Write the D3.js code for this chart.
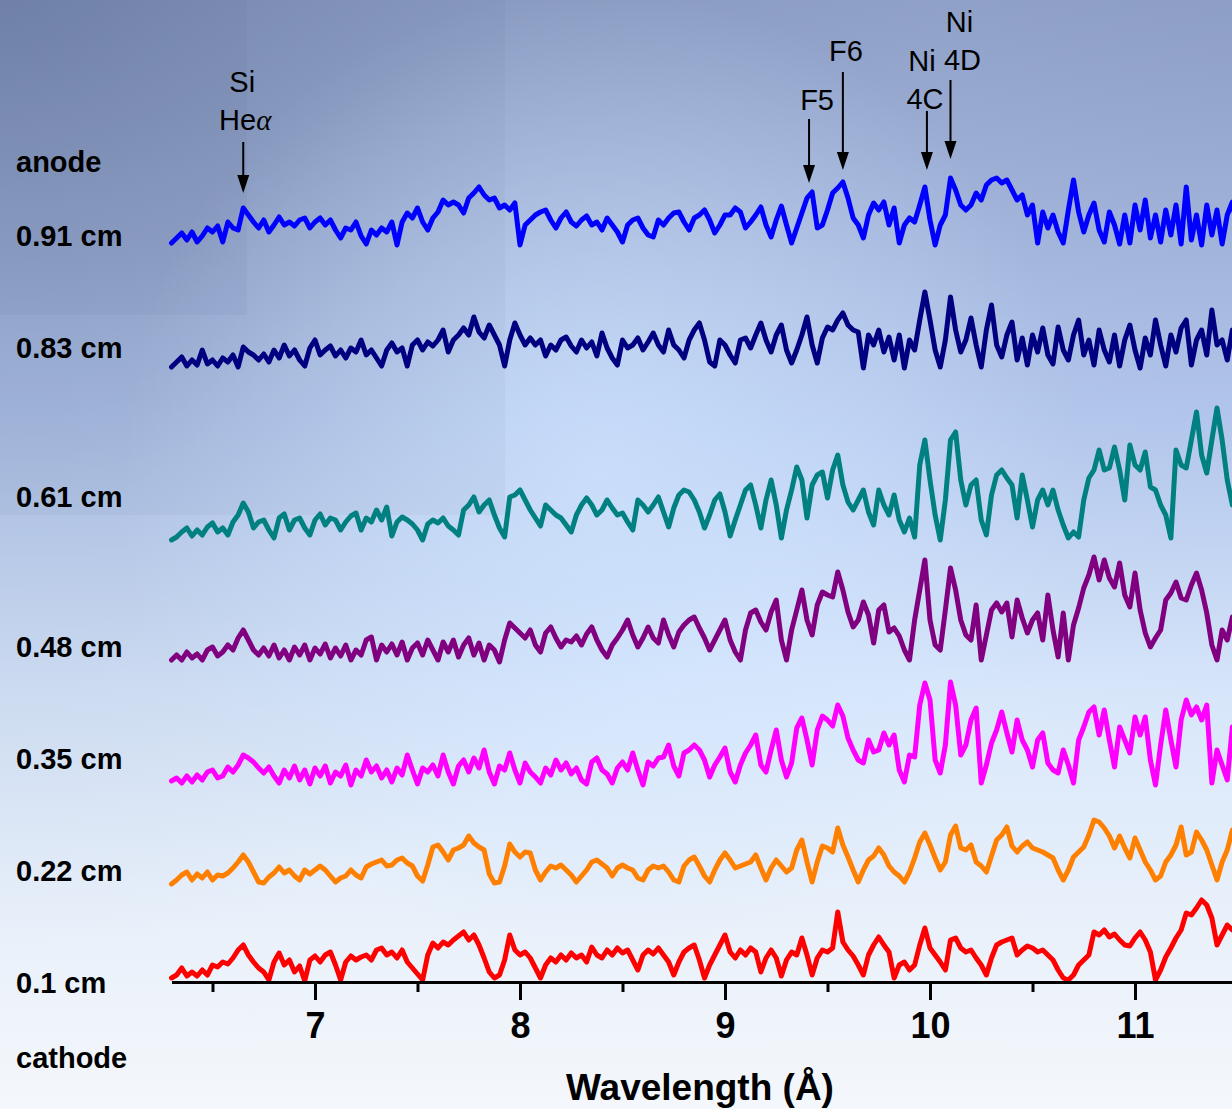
<!DOCTYPE html>
<html>
<head>
<meta charset="utf-8">
<script src="https://cdn.jsdelivr.net/npm/d3@7"></script>
<style>
  html, body { margin: 0; padding: 0; overflow: hidden; background: #fff; }
  svg { display: block; }
</style>
</head>
<body>
<svg id="chart" width="1232" height="1109"></svg>
<script>
// Spectral sampling grid (Å)
const wavelengthStart = 6.3;
const wavelengthStep = 0.025;

// Distance from the cathode for each recorded spectrum (bottom to top)
const positions = ["0.1 cm", "0.22 cm", "0.35 cm", "0.48 cm", "0.61 cm", "0.83 cm", "0.91 cm"];

// Vertical offset of each spectrum in the stack (a.u.)
const offsets = [4, 100, 201, 324, 444, 616, 740];

// Relative intensities (a.u.) on the sampling grid
const int010 = [0,3,10,2,6,2,8,3,13,11,
16,14,20,28,33,23,16,10,6,-2,
16,25,13,18,6,12,-3,18,22,16,
23,26,13,-2,16,22,18,21,23,18,
28,30,23,26,20,28,16,10,4,-2,
23,35,30,36,33,38,42,46,38,43,
33,20,6,0,3,18,43,28,23,26,
20,10,0,13,20,16,23,18,25,20,
23,16,31,23,20,28,23,30,25,28,
18,8,23,28,24,30,23,16,3,16,
26,30,33,18,0,13,23,33,43,26,
20,28,23,30,26,6,20,28,20,2,
18,26,23,40,23,3,20,28,26,30,
66,36,28,22,13,3,23,33,41,33,
26,0,13,16,8,13,33,50,30,23,
16,8,38,40,30,26,28,20,13,3,
20,33,36,38,40,23,28,32,30,26,
28,23,18,8,0,-2,3,13,18,23,
46,43,48,41,44,38,33,32,40,46,
38,26,-2,8,21,30,40,48,65,63,
70,78,73,60,33,43,53,48,50];

const int022 = [-2,2,7,10,2,8,4,10,2,7,
6,9,14,20,27,20,10,0,-1,5,
9,15,9,12,6,2,12,8,12,16,
12,6,0,4,6,12,7,4,15,18,
20,22,16,17,22,24,19,16,6,1,
17,35,37,30,22,32,34,37,46,39,
35,32,8,-1,0,16,38,30,25,30,
29,12,2,10,16,14,17,12,7,0,
6,12,20,22,18,14,6,14,17,14,
12,4,2,12,16,14,16,10,2,0,
16,22,25,16,6,0,12,22,29,22,
14,16,18,20,27,14,2,14,22,16,
10,14,32,42,20,0,20,36,34,30,
54,37,25,12,0,12,22,26,34,27,
16,10,6,0,10,24,40,49,37,24,
12,20,47,56,34,32,37,20,16,10,
26,42,47,55,36,30,36,40,34,32,
30,27,24,12,2,12,25,30,35,47,
62,60,54,46,34,46,34,24,44,32,
20,12,2,6,20,27,37,55,27,30,
50,42,32,17,2,20,32,52,47];

const int035 = [0,3,-2,5,-1,6,1,9,11,3,
5,14,9,16,26,23,19,13,8,14,
5,-2,11,3,15,1,11,-3,13,5,
15,-2,9,5,16,-4,11,5,21,9,
15,3,11,-1,13,6,26,11,-3,13,
9,16,5,26,9,-3,15,21,9,23,
13,31,9,-3,15,11,28,11,-2,18,
9,4,-2,13,6,21,11,18,7,13,
1,-3,19,23,11,7,-2,13,19,11,
28,11,-4,19,15,23,24,36,15,5,
28,31,36,31,21,4,16,24,33,9,
-1,16,28,36,46,16,9,31,51,21,
4,18,53,63,41,16,51,65,61,55,
76,65,43,31,21,18,41,29,31,48,
36,46,11,-1,26,24,76,98,81,21,
8,36,99,76,26,36,61,73,-2,16,
38,51,69,48,29,61,41,31,14,41,
48,18,11,8,31,16,-2,41,54,69,
74,46,71,41,14,54,41,28,64,46,
64,21,-4,36,71,41,14,61,81,66,
74,61,76,-2,31,16,1,54,41];

const int048 = [-2,3,-2,6,0,4,-2,8,11,2,
6,13,8,20,28,18,8,3,10,2,
13,0,8,-2,11,3,13,-2,10,4,
14,0,10,2,13,-2,8,3,18,21,
-2,13,6,14,3,16,-2,10,15,3,
18,8,-2,16,6,18,1,13,20,3,
15,-2,13,8,-4,18,35,30,25,20,
28,13,6,25,31,20,11,18,16,22,
13,24,31,18,8,1,13,20,28,38,
23,11,20,31,20,15,38,23,11,26,
33,38,41,30,20,8,18,28,38,18,
6,-2,28,45,48,36,28,46,58,18,
-2,28,48,68,38,23,53,66,63,61,
86,68,46,31,38,56,43,15,48,53,
26,30,22,8,-2,38,68,98,38,13,
8,48,90,68,38,23,18,53,-2,23,
48,55,46,55,21,58,40,25,38,45,
18,63,28,1,45,-2,33,50,70,83,
101,78,98,80,71,95,63,51,85,48,
25,11,20,28,58,65,76,60,58,73,
85,68,45,13,-2,28,18,41,33];

const int061 = [-2,1,6,10,2,8,3,11,15,6,
10,3,16,23,35,26,10,16,18,8,
0,20,24,8,18,20,10,3,18,24,
13,20,18,8,16,22,25,8,20,16,
28,18,31,2,16,21,18,14,8,-2,
14,18,15,20,12,8,3,28,33,41,
26,33,38,23,10,1,41,43,48,38,
28,20,12,33,28,23,20,13,6,23,
33,40,33,23,28,38,30,23,25,16,
8,38,33,26,33,41,26,11,30,43,
48,46,38,26,10,23,38,44,26,2,
18,33,48,53,33,10,38,58,33,0,
28,48,71,58,20,53,63,66,40,68,
83,53,36,28,38,48,26,13,48,33,
23,43,18,6,20,1,73,98,58,23,
-2,38,98,106,58,33,53,58,18,3,
43,63,68,60,53,20,63,38,11,38,
48,33,48,28,13,0,6,1,38,60,
68,88,68,70,91,68,38,93,73,68,
86,51,48,33,23,0,88,73,70,98,
126,83,65,98,130,98,58,33,53];

const int083 = [-1,4,9,0,6,1,16,2,6,0,
8,4,11,-1,19,14,11,6,12,4,
16,8,21,10,16,6,0,18,26,11,
16,20,10,16,8,18,14,26,11,16,
8,0,16,23,14,18,0,21,26,16,
24,20,26,36,14,26,31,38,31,49,
34,28,41,31,21,0,26,43,31,21,
28,21,26,10,21,16,26,29,20,14,
26,18,24,10,33,18,8,1,26,18,
21,28,16,24,33,21,14,36,21,16,
8,26,36,43,26,4,0,26,21,11,
3,26,28,18,31,43,26,14,31,41,
16,3,16,31,49,21,3,28,39,36,
46,53,41,36,34,-2,31,21,36,14,
29,6,31,-2,26,16,46,74,46,16,
-1,26,69,36,14,26,48,21,-1,36,
61,21,9,31,44,6,28,1,31,14,
38,11,2,39,16,6,31,46,11,26,
1,36,16,4,31,0,26,41,16,-2,
28,11,46,21,0,31,14,38,46,1,
26,36,11,56,21,26,6,36,21];

const int091 = [-1,4,9,2,10,0,6,14,10,16,
0,20,14,12,34,27,20,14,22,10,
17,25,17,20,16,22,24,14,20,24,
17,22,12,4,14,12,20,6,-2,12,
7,14,10,20,-3,20,29,24,34,20,
12,24,30,42,37,40,37,29,44,49,
55,47,42,44,34,37,32,39,-3,17,
22,27,30,32,22,14,24,30,20,16,
22,26,17,20,12,24,17,10,0,17,
22,24,14,7,5,22,17,24,29,30,
20,12,24,27,32,22,9,17,27,27,
34,30,14,20,27,35,17,5,22,36,
17,-1,14,29,44,50,14,17,32,49,
54,60,44,24,17,4,27,39,32,40,
17,34,-1,17,24,20,37,55,22,-3,
17,27,64,52,37,32,37,49,42,57,
62,64,59,62,52,42,47,27,37,-1,
30,14,27,10,-1,32,62,30,10,27,
39,12,0,30,17,-2,27,-1,37,12,
42,4,27,0,32,7,37,-2,55,2,
27,-3,37,7,32,-2,27,40,12];

const intensities = [int010, int022, int035, int048, int061, int083, int091];

// Axis ticks (Å)
const majorTicks = [7, 8, 9, 10, 11];
const minorTicks = [6.5, 7.5, 8.5, 9.5, 10.5, 11.5];

// Identified emission lines
const lineIds = [
  { lines: ["Si", "He\u03B1"], wavelength: 6.65 },
  { lines: ["F5"], wavelength: 9.41 },
  { lines: ["F6"], wavelength: 9.575 },
  { lines: ["Ni", "4C"], wavelength: 9.985 },
  { lines: ["Ni", "4D"], wavelength: 10.10 }
];

// ---------------------------------------------------------------- drawing
const W = 1232, H = 1109;
const svg = d3.select("#chart");
const FONT = "'Liberation Sans', Arial, Helvetica, sans-serif";

const colors = ["#ff0000", "#ff8000", "#ff00ff", "#800080", "#008080", "#000080", "#0000ff"];

const x = d3.scaleLinear().domain([6.3, 11.5]).range([171.5, 1237.5]);
const y = d3.scaleLinear().domain([0, 880]).range([982, 102]);

// background
const defs = svg.append("defs");
const vg = defs.append("linearGradient").attr("id", "bgV")
  .attr("x1", 0).attr("y1", 0).attr("x2", 0).attr("y2", 1);
[[0, "#93a4cb"], [0.38, "#b9cdf2"], [0.62, "#d8e7fb"], [0.85, "#eaf1fa"], [1, "#f4f7fb"]]
  .forEach(([o, c]) => vg.append("stop").attr("offset", o).attr("stop-color", c));

const dark = defs.append("radialGradient").attr("id", "bgDark")
  .attr("gradientUnits", "userSpaceOnUse").attr("cx", 0).attr("cy", 0).attr("r", 950);
[[0, "#4a5a80", 0.42], [0.55, "#5a6a90", 0.16], [1, "#5a6a90", 0]]
  .forEach(([o, c, a]) => dark.append("stop").attr("offset", o).attr("stop-color", c).attr("stop-opacity", a));

const glow = defs.append("radialGradient").attr("id", "bgGlow")
  .attr("gradientUnits", "userSpaceOnUse").attr("cx", 600).attr("cy", 470).attr("r", 480);
[[0, "#cfe4ff", 0.75], [0.6, "#cfe4ff", 0.3], [1, "#cfe4ff", 0]]
  .forEach(([o, c, a]) => glow.append("stop").attr("offset", o).attr("stop-color", c).attr("stop-opacity", a));

const cornerShade = defs.append("radialGradient").attr("id", "bgCorner")
  .attr("gradientUnits", "userSpaceOnUse").attr("cx", 1232).attr("cy", 0).attr("r", 760);
[[0, "#7f8fb8", 0.28], [0.6, "#7f8fb8", 0.1], [1, "#7f8fb8", 0]]
  .forEach(([o, c, a]) => cornerShade.append("stop").attr("offset", o).attr("stop-color", c).attr("stop-opacity", a));

svg.append("rect").attr("width", W).attr("height", H).attr("fill", "url(#bgV)");
svg.append("rect").attr("width", W).attr("height", H).attr("fill", "url(#bgCorner)");
svg.append("rect").attr("width", W).attr("height", H).attr("fill", "url(#bgDark)");
svg.append("rect").attr("width", W).attr("height", H).attr("fill", "url(#bgGlow)");
// gradient banding blocks
svg.append("rect").attr("width", 505).attr("height", 515).attr("fill", "#56668a").attr("opacity", 0.05);
svg.append("rect").attr("width", 247).attr("height", 315).attr("fill", "#56668a").attr("opacity", 0.07);

// spectra
const line = d3.line()
  .x((d, i) => x(wavelengthStart + i * wavelengthStep));

svg.append("g").selectAll("path")
  .data(intensities)
  .join("path")
  .attr("d", (vals, k) => line.y(d => y(offsets[k] + d))(vals))
  .attr("fill", "none")
  .attr("stroke", (d, k) => colors[k])
  .attr("stroke-width", 5)
  .attr("stroke-linejoin", "round")
  .attr("stroke-linecap", "round");

// x axis
const axisY = y(0);
const minorAxis = svg.append("g").attr("transform", `translate(0,${axisY})`)
  .call(d3.axisBottom(x).tickValues(minorTicks).tickSize(10).tickSizeOuter(0).tickFormat(""));
const majorAxis = svg.append("g").attr("transform", `translate(0,${axisY})`)
  .call(d3.axisBottom(x).tickValues(majorTicks).tickSize(18).tickSizeOuter(0).tickPadding(12).tickFormat(d3.format("d")));
[minorAxis, majorAxis].forEach(g => {
  g.selectAll("path.domain").attr("stroke", "#000").attr("stroke-width", 3);
  g.selectAll(".tick line").attr("stroke", "#000").attr("stroke-width", 3);
});
majorAxis.selectAll(".tick text")
  .attr("fill", "#000")
  .style("font-family", FONT).style("font-size", "36px").style("font-weight", "bold");
minorAxis.select("path.domain").remove();

svg.append("text")
  .attr("x", 700).attr("y", 1100)
  .attr("text-anchor", "middle")
  .style("font-family", FONT).style("font-size", "37px").style("font-weight", "bold")
  .text("Wavelength (\u00C5)");

// side labels
const labelBaselines = [993, 881, 769, 657, 507, 358, 246];
const sideLabels = svg.append("g")
  .style("font-family", FONT).style("font-size", "29px").style("font-weight", "bold");
sideLabels.selectAll("text.pos")
  .data(positions)
  .join("text")
  .attr("class", "pos")
  .attr("x", 16)
  .attr("y", (d, i) => labelBaselines[i])
  .text(d => d);
sideLabels.append("text").attr("x", 16).attr("y", 172).text("anode");
sideLabels.append("text").attr("x", 16).attr("y", 1068).text("cathode");

// emission line markers
const markerLayout = [
  { tip: 193, tail: 142, base: 130, dx: 2 },
  { tip: 183, tail: 119, base: 110, dx: 8 },
  { tip: 170, tail: 72, base: 61, dx: 3 },
  { tip: 170, tail: 111, base: 109, dx: -2 },
  { tip: 159, tail: 80, base: 70, dx: 12 }
];
const marks = svg.append("g");
lineIds.forEach((m, i) => {
  const L = markerLayout[i];
  const ax = x(m.wavelength);
  marks.append("line")
    .attr("x1", ax).attr("x2", ax)
    .attr("y1", L.tail).attr("y2", L.tip - 14)
    .attr("stroke", "#000").attr("stroke-width", 2);
  marks.append("path")
    .attr("d", `M${ax - 6},${L.tip - 18}L${ax + 6},${L.tip - 18}L${ax},${L.tip}Z`)
    .attr("fill", "#000");
  const t = marks.append("text")
    .attr("text-anchor", "middle")
    .style("font-family", FONT).style("font-size", "29px");
  const n = m.lines.length;
  m.lines.forEach((s, j) => {
    const ts = t.append("tspan")
      .attr("x", ax + L.dx + (n > 1 && j === 0 ? -3 : 0))
      .attr("y", L.base - (n - 1 - j) * 38);
    if (s.endsWith("\u03B1")) {
      ts.append("tspan").text(s.slice(0, -1));
      ts.append("tspan").style("font-family", "'Liberation Serif', 'Times New Roman', serif")
        .style("font-style", "italic").text("\u03B1");
    } else {
      ts.text(s);
    }
  });
});
</script>
</body>
</html>
